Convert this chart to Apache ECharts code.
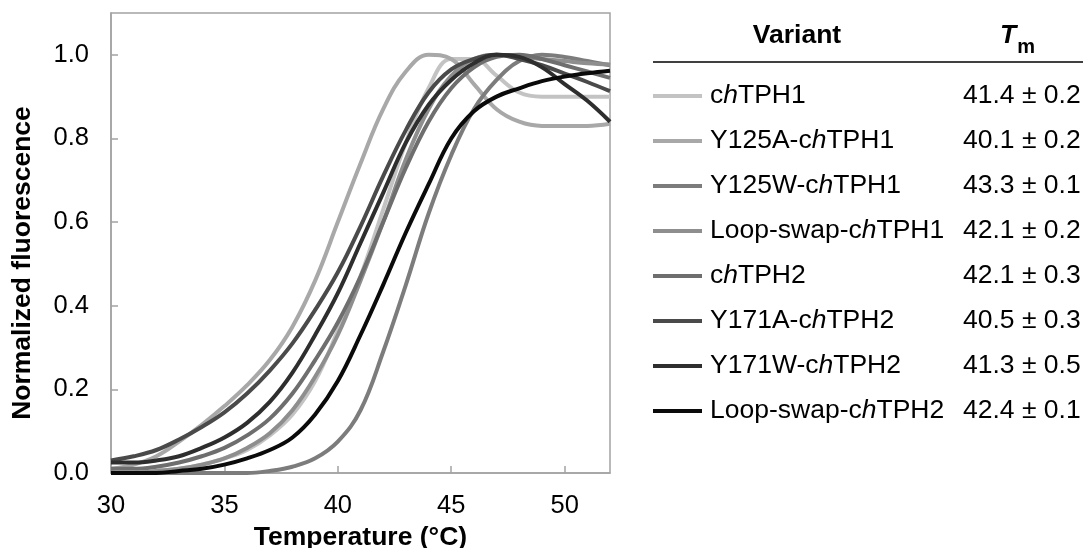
<!DOCTYPE html>
<html><head><meta charset="utf-8">
<script src="https://cdn.jsdelivr.net/npm/echarts@6/dist/echarts.min.js"></script>
<style>html,body{margin:0;padding:0;background:#fff}#c{width:1085px;height:548px}</style>
</head><body><div id="c"></div>
<script>
// Temperature (°C)
const temps = [30,31,32,33,34,35,36,37,38,39,40,41,42,43,44,45,46,47,48,49,50,51,52];
// Normalized fluorescence, one list per variant
const chTPH1      = [0.00,0.00,0.005,0.01,0.02,0.035,0.055,0.09,0.14,0.22,0.34,0.47,0.63,0.79,0.92,0.99,0.99,0.95,0.91,0.90,0.90,0.90,0.90];
const Y125A_chTPH1 = [0.01,0.02,0.04,0.075,0.115,0.16,0.21,0.27,0.35,0.46,0.60,0.74,0.87,0.96,1.00,0.99,0.93,0.87,0.84,0.83,0.83,0.83,0.835];
const Y125W_chTPH1 = [0.00,0.00,0.00,0.00,0.00,0.00,0.00,0.005,0.015,0.035,0.075,0.15,0.29,0.45,0.62,0.76,0.87,0.94,0.985,1.00,0.995,0.985,0.975];
const LS_chTPH1    = [0.00,0.00,0.005,0.01,0.02,0.035,0.06,0.095,0.15,0.23,0.33,0.46,0.60,0.75,0.87,0.95,0.99,1.00,0.995,0.99,0.985,0.98,0.977];
const chTPH2       = [0.01,0.01,0.015,0.025,0.04,0.06,0.09,0.13,0.19,0.27,0.36,0.47,0.60,0.73,0.84,0.92,0.97,0.995,1.00,0.99,0.975,0.96,0.945];
const Y171A_chTPH2 = [0.03,0.04,0.055,0.08,0.11,0.145,0.19,0.245,0.31,0.39,0.48,0.59,0.71,0.82,0.91,0.965,0.99,1.00,0.99,0.975,0.955,0.935,0.913];
const Y171W_chTPH2 = [0.025,0.025,0.03,0.04,0.06,0.085,0.12,0.17,0.24,0.33,0.43,0.55,0.67,0.79,0.88,0.94,0.98,1.00,0.995,0.97,0.93,0.89,0.84];
const LS_chTPH2    = [0.00,0.00,0.00,0.005,0.01,0.02,0.035,0.055,0.085,0.14,0.22,0.33,0.45,0.575,0.69,0.80,0.865,0.90,0.92,0.937,0.948,0.956,0.962];

const variants = ['chTPH1','Y125A-chTPH1','Y125W-chTPH1','Loop-swap-chTPH1','chTPH2','Y171A-chTPH2','Y171W-chTPH2','Loop-swap-chTPH2'];
const tmLabels = ['41.4 ± 0.2','40.1 ± 0.2','43.3 ± 0.1','42.1 ± 0.2','42.1 ± 0.3','40.5 ± 0.3','41.3 ± 0.5','42.4 ± 0.1'];
const seriesValues = [chTPH1, Y125A_chTPH1, Y125W_chTPH1, LS_chTPH1, chTPH2, Y171A_chTPH2, Y171W_chTPH2, LS_chTPH2];
const colors = ['#c3c3c3','#a8a8a8','#7c7c7c','#8e8e8e','#6e6e6e','#4a4a4a','#2e2e2e','#0a0a0a'];

const FONT = 'Liberation Sans, Arial, sans-serif';
const AX = '#a3a3a3';
const rowTop = 94, rowStep = 45;
const FS = 26.5;

const chart = echarts.init(document.getElementById('c'), null, {renderer:'canvas'});

const series = variants.map((name, k) => ({
  name: name,
  type: 'line',
  data: temps.map((t, i) => [t, seriesValues[k][i]]),
  smooth: 0.4,
  showSymbol: false,
  symbol: 'none',
  color: colors[k],
  lineStyle: {width: 4, color: colors[k]},
  itemStyle: {color: colors[k]},
  emphasis: {disabled: true},
  z: 2 + k
}));

function fmtName(name) {
  const idx = name.indexOf('chTPH');
  const pre = name.slice(0, idx + 1);
  const post = name.slice(idx + 2);
  return '{n|' + pre + '}{i|h}{n|' + post + '}';
}

const graphics = [
  {type:'text', x: 797, y: 36, style:{text:'Variant', font:'bold ' + FS + 'px ' + FONT, fill:'#000', align:'center', verticalAlign:'middle'}},
  {type:'text', left: 1000, top: 22, style:{
    text:'{t|T}{s|m}', rich:{
      t:{fontFamily:FONT, fontSize:FS, fontWeight:'bold', fontStyle:'italic', fill:'#000', verticalAlign:'bottom', lineHeight:30},
      s:{fontFamily:FONT, fontSize:20, fontWeight:'bold', fill:'#000', verticalAlign:'bottom', lineHeight:22, padding:[0,0,-8,1]}
    }}},
  {type:'line', shape:{x1:653, y1:62, x2:1083, y2:62}, style:{stroke:'#000', lineWidth:1.6}}
];
tmLabels.forEach((t, i) => {
  graphics.push({type:'text', x: 963, y: rowTop + 2 + i * rowStep,
    style:{text:t, font:FS + 'px ' + FONT, fill:'#000', verticalAlign:'middle'}});
});

chart.setOption({
  animation: false,
  backgroundColor: '#fff',
  grid: {left:111, right:475, top:13, bottom:75, outerBoundsMode:'none', containLabel:false,
    show:true, borderColor:AX, borderWidth:1.5, backgroundColor:'transparent'},
  xAxis: {
    type:'value', min:30, max:52, interval:5,
    name:'Temperature (°C)', nameLocation:'middle', nameGap:43,
    nameTextStyle:{fontFamily:FONT, fontSize:FS, fontWeight:'bold', color:'#000'},
    axisLine:{show:true, lineStyle:{color:AX, width:1.5}},
    axisTick:{show:true, inside:true, length:7, lineStyle:{color:AX, width:1.5}},
    axisLabel:{fontFamily:FONT, fontSize:25.5, color:'#000', margin:20, showMaxLabel:false},
    splitLine:{show:false}
  },
  yAxis: {
    type:'value', min:0, max:1.1, interval:0.2,
    name:'Normalized fluorescence', nameLocation:'middle', nameGap:75,
    nameTextStyle:{fontFamily:FONT, fontSize:FS, fontWeight:'bold', color:'#000', padding:[0,40,0,0]},
    axisLine:{show:true, lineStyle:{color:AX, width:1.5}},
    axisTick:{show:true, inside:true, length:7, lineStyle:{color:AX, width:1.5}},
    axisLabel:{fontFamily:FONT, fontSize:25.5, color:'#000', margin:22, showMaxLabel:false,
      formatter: v => v.toFixed(1)},
    splitLine:{show:false}
  },
  legend: {
    data: variants,
    orient:'vertical', left:653, top: rowTop - 13, padding:0,
    icon:'rect', itemWidth:49, itemHeight:4, itemGap: rowStep - 30,
    itemStyle:{borderWidth:0},
    selectedMode:false,
    formatter: fmtName,
    textStyle:{fontFamily:FONT, fontSize:FS, color:'#000', lineHeight:30, padding:[0,0,0,3],
      rich:{
        n:{fontFamily:FONT, fontSize:FS, color:'#000', lineHeight:30},
        i:{fontFamily:FONT, fontSize:FS, fontStyle:'italic', color:'#000', lineHeight:30}
      }}
  },
  graphic: graphics,
  series: series
});
</script></body></html>
